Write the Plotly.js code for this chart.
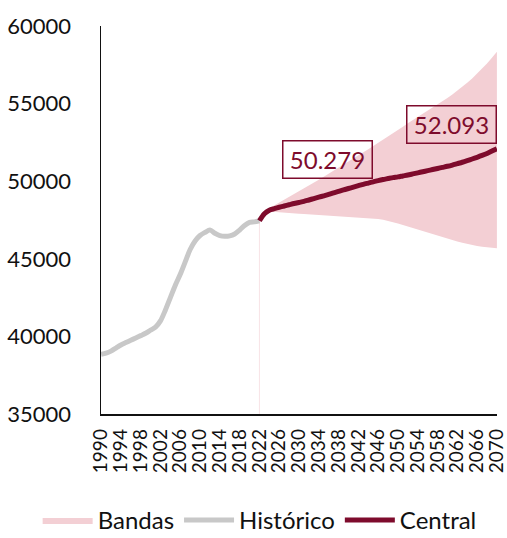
<!DOCTYPE html>
<html>
<head>
<meta charset="utf-8">
<script src="https://cdn.plot.ly/plotly-3.0.1.min.js"></script>
<style>html,body{margin:0;padding:0;background:#fff;}#chart{width:507px;height:538px;}</style>
</head>
<body>
<div id="chart"></div>
<script>
const histYears = [1990,1991,1992,1993,1994,1995,1996,1997,1998,1999,2000,2001,2002,2003,2004,2005,2006,2007,2008,2009,2010,2011,2012,2013,2014,2015,2016,2017,2018,2019,2020,2021,2022];
const histValues = [38850,38920,39050,39250,39450,39600,39750,39900,40050,40200,40400,40600,41000,41700,42500,43300,44000,44800,45600,46150,46500,46700,46850,46650,46500,46450,46480,46600,46850,47150,47350,47380,47450];

const projYears = [2022,2023,2024,2025,2026,2027,2028,2029,2030,2031,2032,2033,2034,2035,2036,2037,2038,2039,2040,2041,2042,2043,2044,2045,2046,2047,2048,2049,2050,2051,2052,2053,2054,2055,2056,2057,2058,2059,2060,2061,2062,2063,2064,2065,2066,2067,2068,2069,2070];
const centralValues = [47450,47900,48130,48230,48320,48400,48480,48560,48630,48700,48790,48880,48970,49060,49150,49250,49340,49440,49530,49620,49710,49800,49880,49960,50040,50110,50170,50230,50279,50340,50400,50470,50540,50610,50680,50750,50820,50890,50960,51040,51130,51220,51320,51430,51540,51660,51790,51940,52093];
const upperValues = [47450,47950,48250,48430,48610,48790,48970,49150,49340,49530,49720,49910,50100,50290,50480,50670,50860,51060,51260,51460,51660,51860,52060,52260,52460,52670,52880,53090,53300,53510,53730,53930,54130,54330,54530,54730,54930,55140,55360,55590,55830,56080,56340,56620,56920,57240,57580,57950,58340];
const lowerValues = [47450,47850,48050,48020,47990,47970,47950,47930,47910,47890,47870,47850,47830,47810,47790,47770,47750,47730,47710,47690,47670,47650,47630,47600,47560,47510,47440,47360,47270,47170,47070,46970,46870,46770,46670,46570,46480,46390,46300,46210,46120,46040,45960,45890,45830,45780,45740,45710,45680];

const tickYears = [1990,1994,1998,2002,2006,2010,2014,2018,2022,2026,2030,2034,2038,2042,2046,2050,2054,2058,2062,2066,2070];
const yTicks = [35000,40000,45000,50000,55000,60000];

const labelMid = {text: '50.279'};
const labelEnd = {text: '52.093'};

const FONT = 'Lato, "Open Sans", sans-serif';
const PINK = '#f3cfd4';
const MAROON = '#7e0b2c';
const GREY = '#c8c8c8';

const traces = [
  {x: projYears, y: lowerValues, mode: 'lines', line: {width: 0, color: PINK}, showlegend: false, hoverinfo: 'skip'},
  {x: projYears, y: upperValues, mode: 'lines', line: {width: 0, color: PINK}, fill: 'tonexty', fillcolor: PINK, name: 'Bandas'},
  {x: [projYears[0], projYears[0]], y: [yTicks[0], centralValues[0]], mode: 'lines', line: {width: 1, color: '#f8e3e6'}, showlegend: false, hoverinfo: 'skip'},
  {x: histYears, y: histValues, mode: 'lines', line: {width: 5, color: GREY, shape: 'spline', smoothing: 0.8}, name: 'Histórico'},
  {x: projYears, y: centralValues, mode: 'lines', line: {width: 5, color: MAROON, shape: 'spline', smoothing: 0.8}, name: 'Central'}
];

const boxStyle = {showarrow: false, xref: 'x', yref: 'y', font: {family: FONT, size: 24, color: MAROON},
  bordercolor: MAROON, borderwidth: 1.5, borderpad: 3, bgcolor: 'rgba(255,255,255,0)', width: 82, height: 30};

const layout = {
  width: 507, height: 538,
  margin: {l: 101, r: 10, t: 26, b: 124, autoexpand: false},
  paper_bgcolor: '#fff', plot_bgcolor: '#fff',
  font: {family: FONT, size: 22, color: '#111'},
  showlegend: true,
  legend: {orientation: 'h', x: -0.16, xanchor: 'left', y: -0.332, yanchor: 'bottom', font: {family: FONT, size: 24, color: '#111'}, itemwidth: 50, tracegroupgap: 0, traceorder: 'normal', bgcolor: 'rgba(0,0,0,0)'},
  xaxis: {
    range: [1989.98, 2070.02], tickmode: 'array', tickvals: tickYears, ticktext: tickYears.map(String),
    tickangle: -90, showgrid: false, zeroline: false, showline: true, linecolor: '#111', linewidth: 1.5,
    ticks: '', tickfont: {family: FONT, size: 19, color: '#111'}, ticklabelstandoff: 6, automargin: false,
    ticklabeloverflow: 'allow'
  },
  yaxis: {
    range: [35000, 60000], tickmode: 'array', tickvals: yTicks, ticktext: yTicks.map(String),
    showgrid: false, zeroline: false, showline: true, linecolor: '#111', linewidth: 1.5,
    ticks: '', tickfont: {family: FONT, size: 22, color: '#111'}, ticklabelstandoff: 24, automargin: false
  },
  annotations: [
    Object.assign({x: 2035.8, y: 51430, text: labelMid.text}, boxStyle),
    Object.assign({x: 2060.9, y: 53650, text: labelEnd.text}, boxStyle)
  ]
};

Plotly.newPlot('chart', traces, layout, {displayModeBar: false, staticPlot: true});
</script>
</body>
</html>
